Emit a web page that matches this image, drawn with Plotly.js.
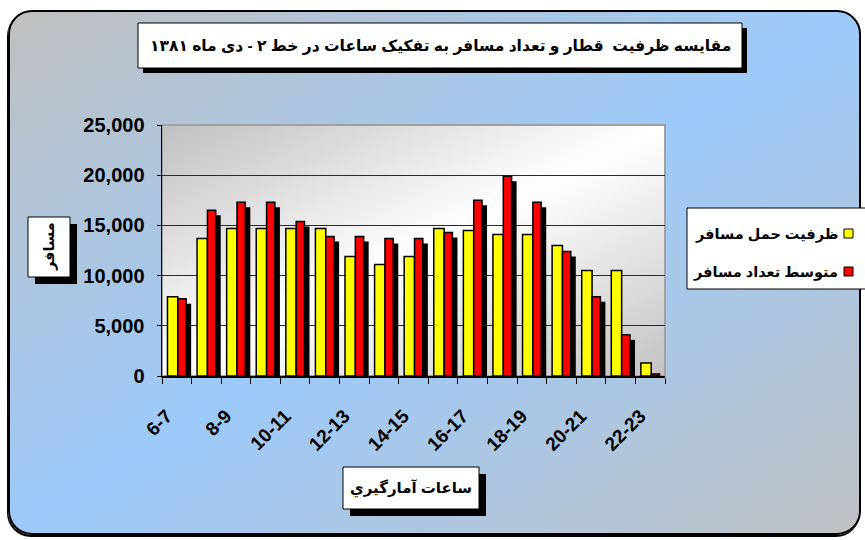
<!DOCTYPE html>
<html>
<head>
<meta charset="utf-8">
<script src="https://cdn.plot.ly/plotly-3.0.1.min.js"></script>
<style>
  html, body { margin:0; padding:0; background:#ffffff; width:865px; height:540px; overflow:hidden; }
  #frame { position:absolute; left:8px; top:10px; width:849px; height:521px;
    border:2px solid #000; border-radius:24px;
    box-shadow:-1px 2px 0 #000;
    background:linear-gradient(to bottom right, #c0c0c0 0%, #9ccafa 50%, #c0c2c4 100%); }
  #chart { position:absolute; left:0; top:0; width:865px; height:540px; }
</style>
</head>
<body>
<div id="frame"></div>
<div id="chart"></div>
<script>
// ---- data ----
const categories = ['6-7','7-8','8-9','9-10','10-11','11-12','12-13','13-14','14-15','15-16','16-17','17-18','18-19','19-20','20-21','21-22','22-23'];
const tickLabels = ['6-7','','8-9','','10-11','','12-13','','14-15','','16-17','','18-19','','20-21','','22-23'];
const capacity = [7900,13700,14700,14700,14700,14700,11900,11100,11900,14700,14500,14100,14100,13000,10500,10500,1300];
const passengers = [7700,16500,17300,17300,15400,13900,13900,13700,13700,14300,17500,19900,17300,12400,7900,4100,200];
const capacityName = 'ظرفیت حمل مسافر';
const passengersName = 'متوسط تعداد مسافر';
const chartTitle = 'مقایسه ظرفیت  قطار و تعداد مسافر به تفکیک ساعات در خط ۲ - دی ماه ۱۳۸۱';
const xTitle = 'ساعات آمارگيري';
const yTitle = 'مسافر';

const yellow = '#ffff00', red = '#ff0000';
const FONT = 'Liberation Sans, Arial, DejaVu Sans, sans-serif';

// plot area in pixels
const L = 162, R = 665, T = 125, B = 376;
const px = x => (x - L) / (R - L);
const py = y => (B - y) / (B - T);

const shadowDrop = 500; // shadow offset in data units (~5px)

const traces = [
  { type:'bar', name:capacityName, x:categories, y:capacity, offset:-0.315, width:0.35,
    marker:{color:yellow, line:{color:'#000', width:1.5}}, showlegend:false },
  { type:'bar', name:'shadow', x:categories, y:passengers, base:-shadowDrop, offset:0.205, width:0.28,
    marker:{color:'#000', line:{width:0}}, showlegend:false, hoverinfo:'skip' },
  { type:'bar', name:passengersName, x:categories, y:passengers, offset:0.035, width:0.28,
    marker:{color:red, line:{color:'#000', width:1.5}}, showlegend:false }
];

function box(x0,y0,x1,y1,fill,lw){
  return {type:'rect', xref:'paper', yref:'paper', x0:px(x0), x1:px(x1), y0:py(y1), y1:py(y0),
    fillcolor:fill, line:{color:'#000', width:lw}, layer:'above'};
}

const gradSvg = "<svg xmlns='http://www.w3.org/2000/svg' width='100' height='100' preserveAspectRatio='none'><defs><linearGradient id='g' x1='0' y1='0' x2='1' y2='1'><stop offset='0' stop-color='#c0c0c0'/><stop offset='0.5' stop-color='#ffffff'/><stop offset='1' stop-color='#c2c2c2'/></linearGradient></defs><rect width='100' height='100' fill='url(#g)'/></svg>";

const shapes = [
  {type:'rect', xref:'paper', yref:'paper', x0:0, x1:1, y0:0, y1:1, line:{color:'#a0a0a0', width:2}, layer:'below'},
  box(143,28,747,73,'#000',0),
  box(138,23,742,68,'#fff',1),
  box(35,224,77,284,'#000',0),
  box(28,217,70,277,'#fff',1),
  box(350,474,486,516,'#000',0),
  box(343,467,479,509,'#fff',1),
  box(687,208,866,289,'#fff',1),
  box(844,229,853,238,yellow,1),
  box(844,267,853,276,red,1)
];

function txt(text,x,y,size,extra){
  return Object.assign({text:text, xref:'paper', yref:'paper', x:px(x), y:py(y), showarrow:false,
    xanchor:'center', yanchor:'middle', font:{family:FONT, size:size, color:'#000', weight:'bold'}}, extra||{});
}

const annotations = [
  txt(chartTitle, 440, 46, 15.5),
  txt(yTitle, 49, 247, 14.5, {textangle:-90}),
  txt(xTitle, 411, 488, 15),
  txt(capacityName, 840, 234, 14.5, {xanchor:'right'}),
  txt(passengersName, 840, 272, 14.5, {xanchor:'right'})
];

const layout = {
  width:865, height:540,
  margin:{l:L, r:865-R, t:T, b:540-B, pad:0},
  paper_bgcolor:'rgba(0,0,0,0)', plot_bgcolor:'rgba(0,0,0,0)',
  barmode:'overlay',
  showlegend:false,
  font:{family:FONT, color:'#000'},
  xaxis:{type:'category', categoryorder:'array', categoryarray:categories,
    tickmode:'array', tickvals:categories, ticktext:tickLabels, tickson:'boundaries',
    ticks:'outside', ticklen:6, tickcolor:'#000', tickwidth:1,
    ticklabelstandoff:20, ticklabelshift:-10,
    tickangle:-45, tickfont:{family:FONT, size:19, color:'#000', weight:'bold'},
    showline:true, linecolor:'#000', linewidth:1.5, showgrid:false, range:[-0.5,16.5], fixedrange:true},
  yaxis:{range:[0,25000], tickmode:'linear', tick0:0, dtick:5000, tickformat:',d',
    ticks:'outside', ticklen:4, tickcolor:'#000', ticklabelstandoff:8,
    tickfont:{family:FONT, size:20, color:'#000', weight:'bold'},
    showline:true, linecolor:'#000', linewidth:1.5, showgrid:true, gridcolor:'#2a2a2a', gridwidth:1,
    zeroline:false, fixedrange:true},
  images:[{source:'data:image/svg+xml;charset=utf-8,' + encodeURIComponent(gradSvg),
    xref:'paper', yref:'paper', x:0, y:1, sizex:1, sizey:1, sizing:'stretch', xanchor:'left', yanchor:'top', layer:'below'}],
  shapes:shapes,
  annotations:annotations
};

Plotly.newPlot('chart', traces, layout, {displayModeBar:false, staticPlot:true});
</script>
</body>
</html>
